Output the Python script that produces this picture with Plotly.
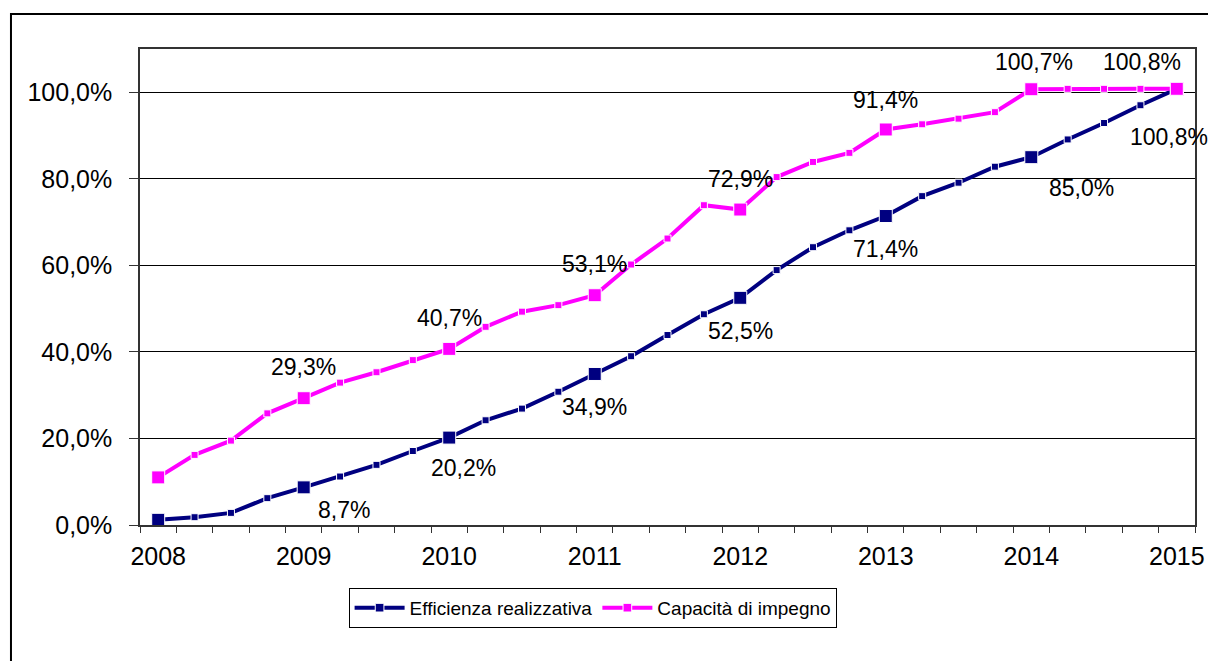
import plotly.graph_objects as go

# quarterly points, 2008 -> 2015 (29 points), year labels every 4th point
years = ["2008", "2009", "2010", "2011", "2012", "2013", "2014", "2015"]

efficienza = [1.2, 1.8, 2.8, 6.2, 8.7, 11.2, 13.9, 17.1, 20.2,
              24.2, 26.9, 30.8, 34.9, 39.0, 43.9, 48.7, 52.5,
              58.9, 64.2, 68.1, 71.4, 76.0, 79.1, 82.8, 85.0,
              89.1, 92.9, 97.0, 100.8]

capacita = [11.0, 16.2, 19.5, 25.8, 29.3, 32.9, 35.3, 38.1, 40.7,
            45.8, 49.3, 50.8, 53.1, 60.2, 66.2, 73.9, 72.9,
            80.4, 83.9, 86.0, 91.4, 92.6, 93.9, 95.4, 100.7,
            100.8, 100.8, 100.8, 100.8]

x = list(range(len(efficienza)))
sizes = [13 if i % 4 == 0 else 7 for i in x]

NAVY = "#000080"
MAGENTA = "#FF00FF"
FONT = "Liberation Sans, Arial, sans-serif"

fig = go.Figure()
fig.add_trace(go.Scatter(x=x, y=efficienza, mode="lines+markers",
                         name="Efficienza realizzativa",
                         line=dict(color=NAVY, width=4),
                         marker=dict(symbol="square", size=sizes, color=NAVY, opacity=1)))
fig.add_trace(go.Scatter(x=x, y=capacita, mode="lines+markers",
                         name="Capacità di impegno",
                         line=dict(color=MAGENTA, width=4),
                         marker=dict(symbol="square", size=sizes, color=MAGENTA, opacity=1)))

# data labels on the yearly points (label offsets in pixels)
navy_shift = [(40, -23), (14, -30), (0, -33), (0, -33), (0, -33), (50, -31), (-8, -48)]
pink_shift = [(0, 31), (0, 31), (0, 31), (0, 31), (0, 29), (3, 27), (-35, 27)]

def fmt(v):
    return f"{v:.1f}".replace(".", ",") + "%"

for k, i in enumerate(range(4, len(x), 4)):
    fig.add_annotation(x=i, y=efficienza[i], text=fmt(efficienza[i]), showarrow=False,
                       xshift=navy_shift[k][0], yshift=navy_shift[k][1],
                       font=dict(family=FONT, size=23, color="black"))
    fig.add_annotation(x=i, y=capacita[i], text=fmt(capacita[i]), showarrow=False,
                       xshift=pink_shift[k][0], yshift=pink_shift[k][1],
                       font=dict(family=FONT, size=23, color="black"))

# outer chart frame
fig.add_shape(type="rect", xref="paper", yref="paper",
              x0=-0.1223, x1=1.04, y0=-0.32, y1=1.0735,
              line=dict(color="black", width=2), layer="below")

fig.update_layout(
    width=1208, height=653,
    margin=dict(l=132, r=21, t=41, b=136),
    paper_bgcolor="white", plot_bgcolor="white",
    separators=",.",
    font=dict(family=FONT, color="black"),
    showlegend=True,
    legend=dict(orientation="h", x=0.429, xanchor="center", y=-0.132, yanchor="top",
                bordercolor="black", borderwidth=1, font=dict(size=19),
                itemwidth=50, tracegroupgap=0),
)

fig.update_xaxes(
    range=[-0.5, len(x) - 0.5],
    tickmode="array", tickvals=list(range(0, len(x), 4)), ticktext=years,
    ticks="", ticklabelstandoff=8,
    minor=dict(tickmode="linear", tick0=-0.5, dtick=1, ticks="outside",
               ticklen=6, tickcolor="#333333"),
    showgrid=False, zeroline=False,
    showline=True, linecolor="#333333", linewidth=1.5, mirror=True,
    tickfont=dict(size=25),
)
fig.update_yaxes(
    range=[0, 110], tickmode="linear", tick0=0, dtick=20,
    tickformat=".1f", ticksuffix="%",
    ticks="outside", ticklen=9, tickcolor="#333333", ticklabelstandoff=12,
    showgrid=True, gridcolor="black", gridwidth=1, zeroline=False,
    showline=True, linecolor="#333333", linewidth=1.5, mirror=True,
    tickfont=dict(size=25),
)

fig.write_html("out.html")
